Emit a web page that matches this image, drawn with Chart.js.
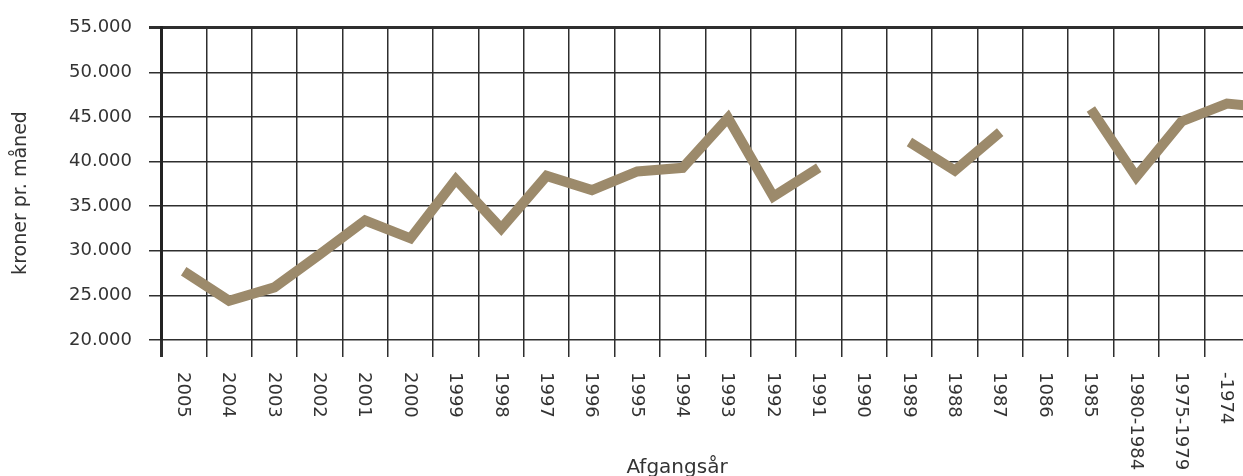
<!DOCTYPE html>
<html>
<head>
<meta charset="utf-8">
<script src="https://cdn.jsdelivr.net/npm/chart.js@4/dist/chart.umd.min.js"></script>
<style>
  body { margin: 0; background: #fff; overflow: hidden; }
  #wrap { width: 1243px; height: 476px; overflow: hidden; }
</style>
</head>
<body>
<div id="wrap"><canvas id="chart" width="1295" height="476" style="width:1295px;height:476px"></canvas></div>
<script>
// x categories (last one is cut off at the right edge of the picture)
const categories = ['2005', '2004', '2003', '2002', '2001', '2000', '1999', '1998', '1997', '1996',
  '1995', '1994', '1993', '1992', '1991', '1990', '1989', '1988', '1987', '1086', '1985',
  '1980-1984', '1975-1979', '-1974', ''];

// kroner pr. maaned
const salary = [27700, 24400, 25900, 29600, 33400, 31400, 38000, 32500, 38400, 36800,
  38900, 39300, 44900, 36100, 39300, null, 42200, 39000, 43300, null, 45900,
  38300, 44500, 46500, 46000];

const yTicks = [20000, 25000, 30000, 35000, 40000, 45000, 50000, 55000];

const yTitle = 'kroner pr. måned';
const xTitle = 'Afgangsår';

const textColor = '#333';
const fontFamily = '"DejaVu Sans", sans-serif';

function danish(v) {
  return String(v).replace(/\B(?=(\d{3})+(?!\d))/g, '.');
}

// draws the rotated x labels (top-to-bottom) and both axis titles
const labelsPlugin = {
  id: 'labels',
  afterDraw(chart) {
    const ctx = chart.ctx;
    const xs = chart.scales.x;
    ctx.save();
    ctx.fillStyle = textColor;
    ctx.font = '18px ' + fontFamily;
    categories.forEach((lab, i) => {
      const x = xs.getPixelForValue(i);
      ctx.save();
      ctx.translate(x - 1, 372);
      ctx.rotate(Math.PI / 2);
      ctx.textAlign = 'left';
      ctx.textBaseline = 'middle';
      ctx.fillText(lab, 0, 0);
      ctx.restore();
    });

    ctx.font = '20px ' + fontFamily;
    ctx.textAlign = 'center';
    ctx.textBaseline = 'alphabetic';
    ctx.fillText(xTitle, 677, 473);

    ctx.save();
    ctx.translate(21, 193);
    ctx.rotate(-Math.PI / 2);
    ctx.font = '19px ' + fontFamily;
    ctx.textBaseline = 'middle';
    ctx.fillText(yTitle, 0, 0);
    ctx.restore();
    ctx.restore();
  }
};

new Chart(document.getElementById('chart'), {
  type: 'line',
  data: {
    labels: categories,
    datasets: [{
      data: salary,
      borderColor: '#9c8a6b',
      borderWidth: 10,
      borderJoinStyle: 'miter',
      borderCapStyle: 'butt',
      pointRadius: 0,
      tension: 0,
      spanGaps: false
    }]
  },
  options: {
    responsive: false,
    animation: false,
    devicePixelRatio: 1,
    layout: { padding: { top: 25, left: 0, right: 0, bottom: 0 } },
    plugins: { legend: { display: false }, tooltip: { enabled: false } },
    scales: {
      x: {
        offset: true,
        grid: {
          offset: true,
          color: '#2e2e2e',
          lineWidth: (c) => (c.index === 0 ? 3 : 1.5),
          tickLength: 17
        },
        border: { display: false },
        ticks: { display: false },
        afterFit: (scale) => { scale.height = 136; }
      },
      y: {
        min: 20000,
        max: 55000,
        afterBuildTicks: (scale) => { scale.ticks = yTicks.map(v => ({ value: v })); },
        grid: {
          color: '#2e2e2e',
          lineWidth: (c) => (c.tick && c.tick.value === 55000 ? 3 : 1.5),
          tickLength: 12
        },
        border: { display: true, color: '#222', width: 3 },
        ticks: {
          color: textColor,
          padding: 17,
          font: { family: fontFamily, size: 18 },
          callback: (v) => danish(v)
        },
        afterFit: (scale) => { scale.width = 161; }
      }
    }
  },
  plugins: [labelsPlugin]
});
</script>
</body>
</html>
